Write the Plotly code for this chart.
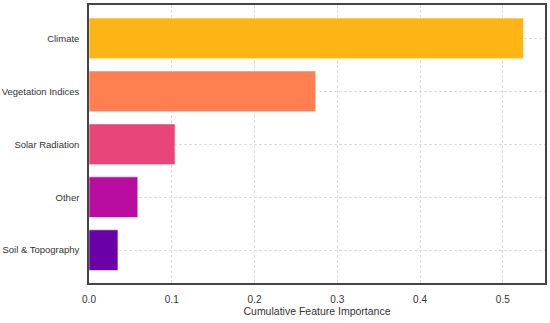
import plotly.graph_objects as go

categories = ["Soil & Topography", "Other", "Solar Radiation", "Vegetation Indices", "Climate"]
importance = [0.035, 0.059, 0.104, 0.274, 0.525]
bar_colors = ["#6A00A8", "#B80DA0", "#E8457A", "#FF7F50", "#FDB515"]
x_ticks = [0.0, 0.1, 0.2, 0.3, 0.4, 0.5]

FONT = "Liberation Sans, Arial, sans-serif"

fig = go.Figure(go.Bar(
    x=importance, y=categories, orientation="h",
    marker=dict(color=bar_colors, line=dict(color="rgba(255,255,255,0.6)", width=1)),
    width=0.77,
))

fig.update_layout(
    width=550, height=323,
    margin=dict(l=89, r=5, t=5, b=40),
    paper_bgcolor="white", plot_bgcolor="white",
    font=dict(family=FONT, size=10, color="#333333"),
    showlegend=False,
)
fig.update_xaxes(
    range=[0, 0.551], tickvals=x_ticks, ticktext=[f"{v:.1f}" for v in x_ticks],
    title=dict(text="Cumulative Feature Importance", standoff=3, font=dict(size=10.5)),
    showgrid=True, gridcolor="#dddddd", griddash="3px,2px", gridwidth=1,
    showline=True, linecolor="#444444", linewidth=1.5, mirror=True,
    ticks="", zeroline=False, automargin=False, ticklabelstandoff=6,
)
fig.update_yaxes(
    range=[-0.62, 4.63], tickfont=dict(size=9.5),
    showgrid=True, gridcolor="#dddddd", griddash="3px,2px", gridwidth=1,
    showline=True, linecolor="#444444", linewidth=1.5, mirror=True,
    ticks="", ticklabelstandoff=6, automargin=False,
)

fig.write_html("out.html", config={"displayModeBar": False},
               post_script="document.body.style.margin='0';")
